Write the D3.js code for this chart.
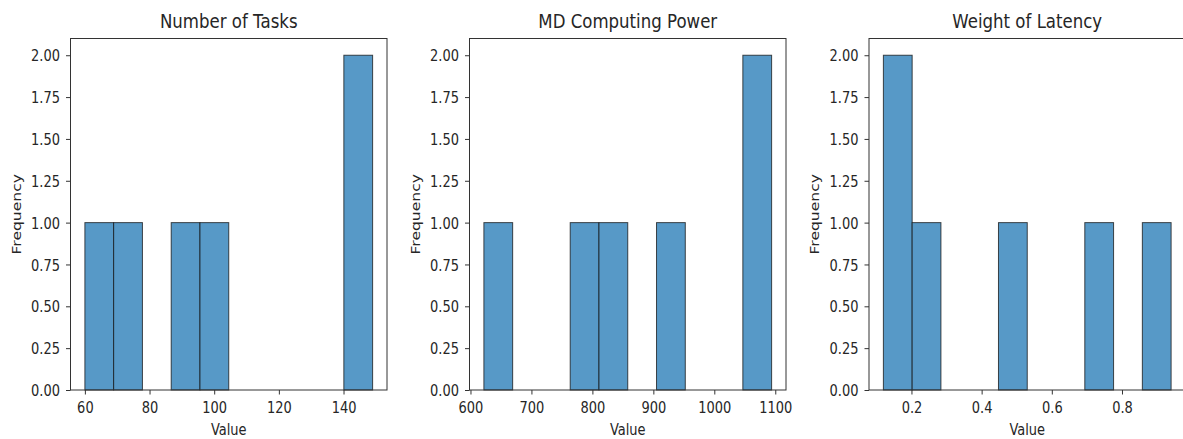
<!DOCTYPE html>
<html>
<head>
<meta charset="utf-8">
<script src="https://cdn.jsdelivr.net/npm/d3@7"></script>
<style>
  body { margin: 0; background: #fff; }
  svg text { font-family: "DejaVu Sans", sans-serif; fill: #262626; }
</style>
</head>
<body>
<div id="chart-area"></div>
<script>
// histogram data: 10 equal-width bins over [min, max] of each column
var titles = ["Number of Tasks", "MD Computing Power", "Weight of Latency"];
var tasksRange = [60, 149];
var tasksCounts = [1, 1, 0, 1, 1, 0, 0, 0, 0, 2];
var powerRange = [622, 1094];
var powerCounts = [1, 0, 0, 1, 1, 0, 1, 0, 0, 2];
var latencyRange = [0.12, 0.94];
var latencyCounts = [2, 1, 0, 0, 1, 0, 0, 1, 0, 1];
var tasksTicks = [60, 80, 100, 120, 140];
var powerTicks = [600, 700, 800, 900, 1000, 1100];
var latencyTicks = [0.2, 0.4, 0.6, 0.8];
var yTicks = [0, 0.25, 0.5, 0.75, 1, 1.25, 1.5, 1.75, 2];

var panels = [
  {title: titles[0], range: tasksRange, counts: tasksCounts, ticks: tasksTicks, fmt: d3.format("d")},
  {title: titles[1], range: powerRange, counts: powerCounts, ticks: powerTicks, fmt: d3.format("d")},
  {title: titles[2], range: latencyRange, counts: latencyCounts, ticks: latencyTicks, fmt: d3.format(".1f")}
];

var W = 1183, H = 439;
var lefts = [70.5, 469.5, 869];
var plotW = 316.5, plotTop = 38.5, plotBottom = 390;
var sy = 1.2; // the reference text is a bit taller than it is wide

var svg = d3.select("#chart-area").append("svg")
    .attr("width", W)
    .attr("height", H);

panels.forEach(function (p, i) {
    var n = p.counts.length,
        step = (p.range[1] - p.range[0]) / n,
        pad = (p.range[1] - p.range[0]) * 0.05;

    // turn counts into bins
    var bins = p.counts.map(function (c, k) {
        return {x0: p.range[0] + k * step, x1: p.range[0] + (k + 1) * step, count: c};
    });

    var x = d3.scaleLinear()
        .domain([p.range[0] - pad, p.range[1] + pad])
        .range([lefts[i], lefts[i] + plotW]);
    var y = d3.scaleLinear()
        .domain([0, 2.1])
        .range([plotBottom, plotTop]);

    var g = svg.append("g");

    g.selectAll("rect.bar")
        .data(bins.filter(function (d) { return d.count > 0; }))
        .enter().append("rect")
        .attr("class", "bar")
        .attr("x", function (d) { return x(d.x0); })
        .attr("width", function (d) { return x(d.x1) - x(d.x0); })
        .attr("y", function (d) { return y(d.count); })
        .attr("height", function (d) { return y(0) - y(d.count); })
        .style("fill", "#5799c7")
        .style("stroke", "#111")
        .style("stroke-opacity", 0.75)
        .style("stroke-width", 1);

    // x axis
    var xAxis = g.append("g")
        .attr("transform", "translate(0," + plotBottom + ")")
        .call(d3.axisBottom(x).tickValues(p.ticks).tickFormat(p.fmt).tickSize(4.5));
    xAxis.selectAll(".tick text")
        .attr("y", 0).attr("dy", null)
        .attr("transform", "translate(0,23) scale(1," + sy + ")");

    // y axis
    var yAxis = g.append("g")
        .attr("transform", "translate(" + lefts[i] + ",0)")
        .call(d3.axisLeft(y).tickValues(yTicks).tickFormat(d3.format(".2f")).tickSize(4.5));
    yAxis.selectAll(".tick text")
        .attr("x", 0).attr("dy", null)
        .attr("transform", "translate(-10.5,5.6) scale(1," + sy + ")");

    [xAxis, yAxis].forEach(function (a) {
        a.select(".domain").remove();
        a.selectAll(".tick line").attr("stroke", "#333");
        a.selectAll(".tick text").style("font-size", "13px").attr("fill", "#262626");
    });

    // frame
    g.append("rect")
        .attr("x", lefts[i])
        .attr("y", plotTop)
        .attr("width", plotW)
        .attr("height", plotBottom - plotTop)
        .style("fill", "none")
        .style("stroke", "#333")
        .style("stroke-width", 1);

    g.append("text")
        .attr("transform", "translate(" + (lefts[i] + plotW / 2) + ",28.3) scale(1,1.12)")
        .attr("text-anchor", "middle")
        .style("font-size", "16.6px")
        .text(p.title);

    g.append("text")
        .attr("transform", "translate(" + (lefts[i] + plotW / 2) + ",435) scale(1," + sy + ")")
        .attr("text-anchor", "middle")
        .style("font-size", "13px")
        .text("Value");

    g.append("text")
        .attr("transform", "translate(" + (lefts[i] - 50) + "," + ((plotTop + plotBottom) / 2) + ") scale(1," + sy + ") rotate(-90)")
        .attr("text-anchor", "middle")
        .style("font-size", "13px")
        .text("Frequency");
});
</script>
</body>
</html>
